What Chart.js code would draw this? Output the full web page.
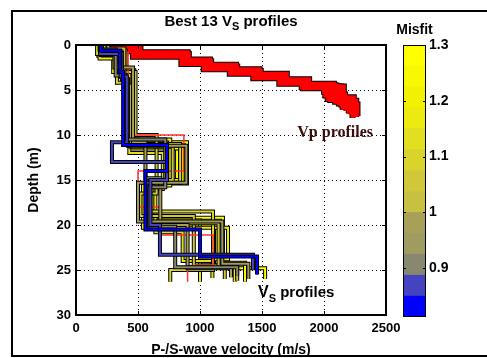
<!DOCTYPE html>
<html lang="en">
<head>
<meta charset="UTF-8">
<title>Best 13 Vs profiles</title>
<script src="https://cdn.jsdelivr.net/npm/chart.js"></script>
<style>
  body { margin: 0; background: #fff; }
  #wrap { position: relative; width: 487px; height: 358px; overflow: hidden; }
  #frame { position: absolute; left: 11px; top: 10px; width: 520px; height: 343px; border: 2px solid #000; }
  canvas { position: absolute; top: 0; }
  #main { left: 0; }
  #cbar { left: 390px; }
</style>
</head>
<body>
<div id="wrap">
  <div id="frame"></div>
  <canvas id="main" width="487" height="358"></canvas>
  <canvas id="cbar" width="97" height="358"></canvas>
</div>
<script>
// axis ticks
const xTicks = [0, 500, 1000, 1500, 2000, 2500];
const yTicks = [0, 5, 10, 15, 20, 25, 30];
const misfitTicks = [0.9, 1, 1.1, 1.2, 1.3];

// colour bar: band edges (bottom -> top) and band colours
const misfitEdges = [0.8125, 0.85, 0.8875, 0.925, 0.9625, 1.0, 1.0375, 1.075, 1.1125, 1.15, 1.1875, 1.225, 1.2625, 1.3];
const bandColors = ['#0000ff', '#4444c0', '#888870', '#a09c60', '#a8a058', '#c8c040', '#d0c838',
                    '#d8d42c', '#e2de20', '#ecea10', '#f2f200', '#f8f800', '#ffff00'];

// misfit of each Vs/Vp profile (best first)
const misfit = [0.83, 0.87, 0.91, 0.94, 0.98, 1.02, 1.06, 1.09, 1.13, 1.17, 1.21, 1.24, 1.28];

// Vs profiles: layer velocity (m/s) and layer bottom depth (m)
const vsVel = [
  [200, 355, 380, 734, 560, 1000, 1460],
  [194, 360, 410, 290, 734, 600, 677, 1427],
  [190, 320, 400, 720, 590, 800, 1300],
  [210, 370, 420, 890, 500, 1180, 1390],
  [200, 310, 460, 560, 680, 900, 1250],
  [260, 390, 440, 780, 600, 1150, 1300],
  [230, 350, 480, 650, 520, 950, 1200],
  [170, 330, 410, 840, 580, 1105, 760],
  [250, 380, 430, 700, 640, 860, 1100],
  [190, 360, 470, 760, 540, 1226, 1000],
  [220, 400, 440, 860, 620, 1000, 1280],
  [200, 340, 450, 895, 600, 1137, 1363],
  [180, 300, 420, 815, 560, 1185, 1525]
];
const vsDep = [
  [0.6, 3.0, 11.1, 14.0, 20.5, 23.5, 25.5],
  [1.0, 3.5, 10.8, 13.0, 15.0, 20.0, 23.3, 25.0],
  [0.5, 3.4, 10.5, 15.8, 20.2, 24.7, 25.6],
  [0.9, 3.8, 11.2, 15.3, 19.6, 24.3, 26.0],
  [1.1, 2.5, 10.8, 14.8, 20.0, 24.8, 25.8],
  [0.4, 4.5, 11.3, 15.0, 19.8, 24.6, 26.2],
  [0.7, 3.0, 10.0, 16.5, 19.0, 24.5, 26.0],
  [1.0, 4.2, 11.0, 15.3, 18.5, 25.0, 26.3],
  [0.5, 3.2, 12.0, 16.0, 20.8, 24.0, 25.9],
  [1.5, 2.8, 10.5, 15.6, 20.3, 23.8, 26.3],
  [0.6, 4.0, 11.5, 15.0, 19.5, 24.5, 26.3],
  [0.8, 3.5, 10.8, 15.4, 20.0, 24.2, 26.3],
  [1.2, 3.0, 11.1, 15.3, 19.2, 24.8, 26.0]
];
// extra Vs profile drawn in red
const vsRedVel = [210, 420, 870, 500, 680, 1105, 900];
const vsRedDep = [0.8, 10.0, 14.0, 18.0, 21.1, 24.5, 26.3];

// Vp profiles: layer velocity (m/s) and layer bottom depth (m)
const vpVel = [
  [300, 480, 870, 1050, 1260, 1450, 1660, 1840, 2010, 2120],
  [320, 500, 890, 1070, 1280, 1470, 1680, 1860, 2040, 2170],
  [340, 470, 860, 1040, 1250, 1440, 1650, 1820, 2060, 2200],
  [310, 510, 900, 1080, 1290, 1480, 1700, 1880, 2080, 2240],
  [350, 490, 880, 1060, 1270, 1460, 1670, 1850, 2100, 2260],
  [330, 460, 850, 1030, 1240, 1430, 1640, 1830, 2030, 2150],
  [300, 520, 910, 1090, 1300, 1490, 1690, 1870, 2120, 2230],
  [360, 480, 870, 1050, 1260, 1450, 1660, 1840, 2000, 2090],
  [320, 500, 890, 1070, 1280, 1470, 1680, 1860, 2070, 2210],
  [340, 490, 880, 1060, 1270, 1460, 1670, 1850, 2140, 2270],
  [310, 470, 860, 1040, 1250, 1440, 1650, 1830, 2050, 2180],
  [330, 510, 900, 1080, 1290, 1480, 1690, 1870, 2090, 2250],
  [300, 500, 870, 1060, 1270, 1460, 1670, 1850, 2160, 2220]
];
const vpDep = [
  [0.5, 1.1, 1.9, 2.5, 3.0, 3.5, 4.1, 4.6, 5.6, 6.6],
  [0.4, 0.9, 1.7, 2.3, 2.8, 3.3, 3.9, 4.4, 5.5, 7.0],
  [0.6, 1.2, 2.0, 2.6, 3.1, 3.6, 4.2, 4.7, 6.0, 7.6],
  [0.3, 0.8, 1.6, 2.2, 2.7, 3.2, 3.8, 4.3, 5.8, 7.8],
  [0.5, 1.0, 1.8, 2.4, 2.9, 3.4, 4.0, 4.5, 6.2, 8.0],
  [0.7, 1.3, 2.1, 2.7, 3.2, 3.7, 4.3, 4.8, 6.0, 7.2],
  [0.4, 1.0, 1.8, 2.4, 2.9, 3.5, 4.1, 4.6, 6.5, 8.1],
  [0.6, 1.1, 1.9, 2.5, 3.0, 3.5, 4.1, 4.5, 5.2, 6.0],
  [0.5, 1.1, 1.7, 2.3, 2.8, 3.3, 3.9, 4.4, 5.9, 7.4],
  [0.4, 1.0, 1.8, 2.4, 2.9, 3.4, 4.0, 4.6, 6.6, 7.9],
  [0.5, 1.2, 2.0, 2.6, 3.1, 3.6, 4.2, 4.7, 6.1, 7.3],
  [0.6, 0.9, 1.7, 2.3, 2.8, 3.4, 4.0, 4.5, 6.3, 8.0],
  [0.4, 1.0, 1.9, 2.5, 3.0, 3.5, 4.1, 4.6, 6.8, 7.7]
];

Chart.defaults.color = '#000';
Chart.defaults.font.family = '"Liberation Sans", Arial, sans-serif';

// turn a layered model into a staircase line
function steps(vel, dep) {
  const pts = [];
  let top = 0;
  vel.forEach((v, i) => {
    pts.push({ x: v, y: top });
    pts.push({ x: v, y: dep[i] });
    top = dep[i];
  });
  return pts;
}

function misfitColor(m) {
  for (let k = 0; k < bandColors.length; k++) {
    if (m >= misfitEdges[k] && m < misfitEdges[k + 1]) return bandColors[k];
  }
  return bandColors[bandColors.length - 1];
}

const datasets = [];
function addLine(data, color, width) {
  datasets.push({
    data: data, borderColor: color, borderWidth: width, showLine: true,
    pointRadius: 0, fill: false, borderJoinStyle: 'miter', order: -datasets.length
  });
}

// Vp: dark outline then red
vpVel.forEach((v, i) => addLine(steps(v, vpDep[i]), '#000', 6));
vpVel.forEach((v, i) => addLine(steps(v, vpDep[i]), '#ff0000', 4));

// Vs: worst misfit drawn first, best on top
const vsOrder = misfit.map((m, i) => i).sort((a, b) => misfit[b] - misfit[a]);
vsOrder.forEach((i, n) => {
  addLine(steps(vsVel[i], vsDep[i]), '#000', 4);
  addLine(steps(vsVel[i], vsDep[i]), misfitColor(misfit[i]), 2);
  if (n === 6) addLine(steps(vsRedVel, vsRedDep), '#ff3030', 1.5);
});

// text pieces with subscripts: [text, fontSize, dy]
function drawParts(ctx, parts, x, y, align) {
  let total = 0;
  parts.forEach(p => { ctx.font = 'bold ' + p[1] + 'px "Liberation Sans", Arial'; total += ctx.measureText(p[0]).width; });
  let cx = align === 'center' ? x - total / 2 : x;
  ctx.textAlign = 'left';
  ctx.textBaseline = 'alphabetic';
  parts.forEach(p => {
    ctx.font = 'bold ' + p[1] + 'px "Liberation Sans", Arial';
    ctx.fillText(p[0], cx, y + p[2]);
    cx += ctx.measureText(p[0]).width;
  });
}

const mainDecor = {
  id: 'mainDecor',
  afterDatasetsDraw(chart) {
    const { ctx, chartArea: a, scales: { x, y } } = chart;
    ctx.save();
    ctx.strokeStyle = '#000';
    ctx.lineWidth = 1;
    ctx.beginPath();
    xTicks.slice(1, -1).forEach(t => {
      const px = Math.round(x.getPixelForValue(t)) + 0.5;
      ctx.moveTo(px, a.top); ctx.lineTo(px, a.top + 4);
      ctx.moveTo(px, a.bottom); ctx.lineTo(px, a.bottom - 4);
    });
    yTicks.slice(1, -1).forEach(t => {
      const py = Math.round(y.getPixelForValue(t)) + 0.5;
      ctx.moveTo(a.left, py); ctx.lineTo(a.left + 4, py);
      ctx.moveTo(a.right, py); ctx.lineTo(a.right - 4, py);
    });
    ctx.stroke();
    ctx.lineWidth = 2;
    ctx.strokeRect(a.left, a.top, a.right - a.left, a.bottom - a.top);

    // annotations
    ctx.fillStyle = '#3c0c0c';
    ctx.font = 'bold 16px "Liberation Serif", serif';
    ctx.textAlign = 'center';
    ctx.textBaseline = 'middle';
    ctx.fillText('Vp profiles', x.getPixelForValue(2090), y.getPixelForValue(9.8));
    ctx.fillStyle = '#000';
    drawParts(ctx, [['V', 16, 0], ['S', 11, 5], [' profiles', 15, 0]],
      x.getPixelForValue(1468), y.getPixelForValue(28.0), 'left');
    ctx.restore();
  },
  afterDraw(chart) {
    const { ctx, chartArea: a } = chart;
    ctx.save();
    ctx.fillStyle = '#000';
    drawParts(ctx, [['Best 13 V', 15, 0], ['S', 11, 4], [' profiles', 15, 0]],
      (a.left + a.right) / 2, 26, 'center');
    ctx.restore();
  }
};

const tickFont = { size: 13, weight: 'bold' };
const titleFont = { size: 14, weight: 'bold' };

new Chart(document.getElementById('main'), {
  type: 'scatter',
  data: { datasets: datasets },
  options: {
    responsive: false,
    animation: false,
    layout: { padding: { left: 26, right: 101, top: 45, bottom: 0 } },
    plugins: { legend: { display: false }, tooltip: { enabled: false } },
    scales: {
      x: {
        type: 'linear', min: 0, max: 2500,
        afterBuildTicks: s => { s.ticks = xTicks.map(v => ({ value: v })); },
        afterFit: s => { s.height = 43; },
        ticks: { callback: v => String(v), font: tickFont, padding: 6, maxRotation: 0 },
        grid: { color: '#000', lineWidth: 1, drawTicks: false },
        border: { display: false, dash: [1, 3] },
        title: { display: true, text: 'P-/S-wave velocity (m/s)', font: titleFont, padding: { top: 0, bottom: -1 } }
      },
      y: {
        type: 'linear', min: 0, max: 30, reverse: true,
        afterBuildTicks: s => { s.ticks = yTicks.map(v => ({ value: v })); },
        afterFit: s => { s.width = 50; },
        ticks: { callback: v => String(v), font: tickFont, padding: 5 },
        grid: { color: '#000', lineWidth: 1, drawTicks: false },
        border: { display: false, dash: [1, 3] },
        title: { display: true, text: 'Depth (m)', font: titleFont, padding: { top: 0, bottom: 0 } }
      }
    }
  },
  plugins: [mainDecor]
});

// colour bar
const cbarDecor = {
  id: 'cbarDecor',
  afterDraw(chart) {
    const { ctx, chartArea: a, scales: { y } } = chart;
    ctx.save();
    ctx.strokeStyle = '#000';
    ctx.lineWidth = 1;
    ctx.strokeRect(a.left + 0.5, a.top + 0.5, a.right - a.left - 1, a.bottom - a.top - 1);
    ctx.beginPath();
    misfitTicks.slice(0, -1).forEach(t => {
      const py = Math.round(y.getPixelForValue(t)) + 0.5;
      ctx.moveTo(a.left, py); ctx.lineTo(a.left + 3, py);
      ctx.moveTo(a.right, py); ctx.lineTo(a.right - 3, py);
    });
    ctx.stroke();
    ctx.fillStyle = '#000';
    ctx.font = 'bold 14px "Liberation Sans", Arial';
    ctx.textAlign = 'center';
    ctx.textBaseline = 'alphabetic';
    ctx.fillText('Misfit', (a.left + a.right) / 2, 34);
    ctx.restore();
  }
};

new Chart(document.getElementById('cbar'), {
  type: 'bar',
  data: {
    labels: ['misfit'],
    datasets: bandColors.map((c, k) => ({
      data: [[misfitEdges[k], misfitEdges[k + 1]]],
      backgroundColor: c, borderWidth: 0, grouped: false,
      barPercentage: 1, categoryPercentage: 1
    }))
  },
  options: {
    responsive: false,
    animation: false,
    layout: { padding: { left: 13, right: 0, top: 45, bottom: 41 } },
    plugins: { legend: { display: false }, tooltip: { enabled: false } },
    scales: {
      x: { display: false },
      y: {
        position: 'right',
        min: misfitEdges[0], max: misfitEdges[misfitEdges.length - 1],
        afterBuildTicks: s => { s.ticks = misfitTicks.map(v => ({ value: v })); },
        afterFit: s => { s.width = 61; },
        ticks: { callback: v => String(v), font: { size: 14, weight: 'bold' }, padding: 3 },
        grid: { display: false, drawTicks: false },
        border: { display: false }
      }
    }
  },
  plugins: [cbarDecor]
});
</script>
</body>
</html>
